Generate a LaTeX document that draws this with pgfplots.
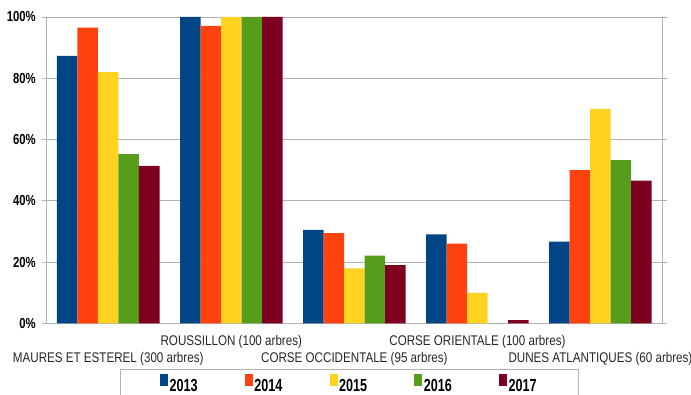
\documentclass[border=0pt]{standalone}
\usepackage{fontspec}
\setmainfont{Liberation Sans}[FakeStretch=0.83]
\newfontfamily\yfont{Liberation Sans}[FakeStretch=0.78]
\newfontfamily\legfont{Liberation Sans}[FakeStretch=0.72]
\usepackage{pgfplots}
\pgfplotsset{compat=1.18}
\definecolor{c13}{HTML}{004586}
\definecolor{c14}{HTML}{FF420E}
\definecolor{c15}{HTML}{FFD320}
\definecolor{c16}{HTML}{579D1C}
\definecolor{c17}{HTML}{7E0021}
\definecolor{gridgray}{HTML}{B3B3B3}
\begin{document}
\begin{tikzpicture}
\path[use as bounding box] (0,0) rectangle (691pt,394pt);
\begin{axis}[
  at={(46.7pt,70.7pt)}, anchor=south west,
  scale only axis, width=615.3pt, height=306.3pt,
  ybar=0pt, bar width=20.51pt,
  xmin=-0.5, xmax=4.5, ymin=0, ymax=100,
  xtick={0,1,2,3,4},
  xticklabels={{\strut\\\strut MAURES ET ESTEREL (300 arbres)},{\strut ROUSSILLON (100 arbres)},{\strut\\\strut CORSE OCCIDENTALE (95 arbres)},{\strut CORSE ORIENTALE (100 arbres)},{\strut\\\strut DUNES ATLANTIQUES (60 arbres)}},
  xticklabel style={align=center, anchor=north, inner sep=0pt, font=\fontsize{14}{17}\selectfont, yshift=-9.8pt, text=black!85},
  ytick={0,20,40,60,80,100},
  yticklabels={0\%,20\%,40\%,60\%,80\%,100\%},
  yticklabel style={font=\fontsize{14.5}{17}\selectfont\yfont\bfseries, inner sep=0pt, xshift=-10.7pt},
  major tick length=0pt,
  ymajorgrids, grid style={gridgray, line width=0.8pt},
  axis line style={gridgray, line width=0.8pt},
  extra y ticks={0,20,40,60,80,100},
  extra y tick labels={},
  extra y tick style={tick align=outside, major tick length=5pt, tick style={gridgray, line width=0.8pt}, ymajorgrids=false},
  every axis plot/.append style={draw=none},
  legend columns=5,
  legend image code/.code={\fill[#1] (0pt,0pt) rectangle (8pt,11.7pt);},
  legend style={at={(0.4915,0)}, anchor=north, yshift=-46pt, draw=gridgray, line width=0.8pt,
    font=\fontsize{17.5}{20}\selectfont\legfont\bfseries, inner xsep=40pt, inner ysep=4.6pt,
    nodes={inner xsep=1.6pt, inner ysep=0pt},
    /tikz/every even column/.append style={column sep=45.5pt}},
]
\addplot[fill=c13] coordinates {(0,87.3) (1,100) (2,30.5) (3,29) (4,26.7)};
\addplot[fill=c14] coordinates {(0,96.5) (1,97.1) (2,29.4) (3,26) (4,50)};
\addplot[fill=c15] coordinates {(0,82) (1,100) (2,17.9) (3,9.9) (4,70)};
\addplot[fill=c16] coordinates {(0,55.2) (1,100) (2,22.1) (3,0) (4,53.3)};
\addplot[fill=c17] coordinates {(0,51.4) (1,100) (2,19) (3,1) (4,46.6)};
\legend{2013,2014,2015,2016,2017}
\end{axis}
\end{tikzpicture}
\end{document}
